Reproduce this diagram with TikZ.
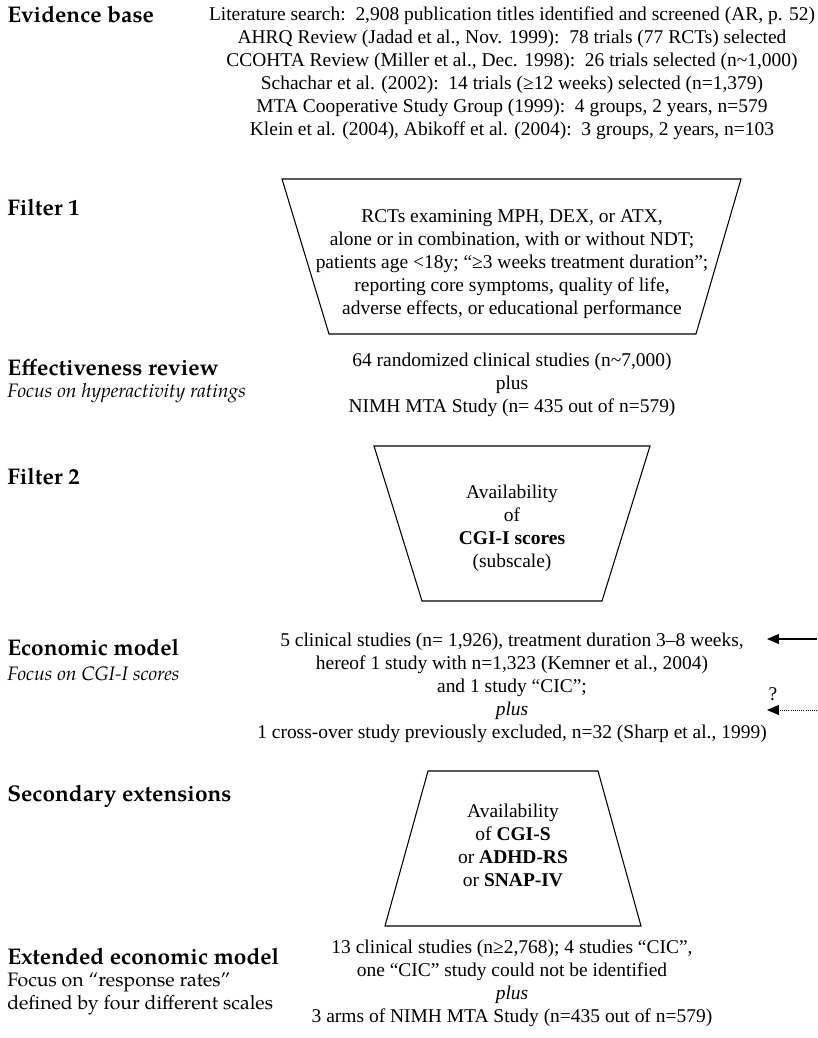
\documentclass[tikz,border=0pt]{standalone}
\usepackage{fontspec}
\setmainfont{Liberation Serif}
\newfontfamily\pagella{TeX Gyre Pagella}
\usetikzlibrary{arrows.meta}
\newcommand\qsize{\fontsize{14.6}{17.25}\selectfont}
\tikzset{
    stagelbl/.style={font=\pagella\bfseries\fontsize{17}{20}\selectfont, anchor=west, inner sep=0pt},
    stagesub/.style={font=\pagella\fontsize{14.6}{17.25}\selectfont, anchor=west, inner sep=0pt, align=left},
    qtext/.style={align=center, inner sep=0pt},
    qfilter/.style={draw=black, line width=0.8pt, line join=miter},
    qline/.style={-{Triangle[length=9pt, width=7.5pt]}, line width=0.9pt},
    qdots/.style={-{Triangle[length=9pt, width=7.5pt]}, line width=0.6pt, densely dotted}
}

\begin{document}
\begin{tikzpicture}[x=0.75pt, y=-0.75pt, every node/.style={font=\qsize}]
            \useasboundingbox (0,0) rectangle (817,1038);
            \foreach \n/\y/\t in {lEvid/15/Evidence base, lFiltA/208/Filter 1, lEff/368/Effectiveness review, lFiltB/477/Filter 2, lEcon/648/Economic model, lSec/796/Secondary extensions, lExt/957/Extended economic model}{
                \node[stagelbl] (\n) at (7,\y) {\t};
            }
            \node[stagesub, font=\pagella\itshape\fontsize{14.6}{17.25}\selectfont] (sEff) at (7,393) {Focus on hyperactivity ratings};
            \node[stagesub, font=\pagella\itshape\fontsize{14.6}{17.25}\selectfont] (sEcon) at (7,674) {Focus on CGI-I scores};
            \node[stagesub] (sExt) at (7,993.5) {Focus on “response rates”\\defined by four different scales};

            \draw[qfilter] (282,179) -- (741,179) -- (696,334) -- (329,334) -- cycle;
            \draw[qfilter] (374,446) -- (650,446) -- (602,601) -- (422,601) -- cycle;
            \draw[qfilter] (428,771) -- (598,771) -- (641,926) -- (385,926) -- cycle;

            \node[qtext] (evid) at (512,73) {Literature search:\ \ 2,908 publication titles identified and screened (AR, p. 52)\\
                AHRQ Review (Jadad et al., Nov. 1999):\ \ 78 trials (77 RCTs) selected\\
                CCOHTA Review (Miller et al., Dec. 1998):\ \ 26 trials selected (n\textasciitilde 1,000)\\
                Schachar et al. (2002):\ \ 14 trials (≥12 weeks) selected (n=1,379)\\
                MTA Cooperative Study Group (1999):\ \ 4 groups, 2 years, n=579\\
                Klein et al. (2004), Abikoff et al. (2004):\ \ 3 groups, 2 years, n=103};
            \node[qtext] (filtA) at (512,264) {RCTs examining MPH, DEX, or ATX,\\
                alone or in combination, with or without NDT;\\
                patients age <18y; “≥3 weeks treatment duration”;\\
                reporting core symptoms, quality of life,\\
                adverse effects, or educational performance};
            \node[qtext] (eff) at (512,385) {64 randomized clinical studies (n\textasciitilde 7,000)\\plus\\NIMH MTA Study (n= 435 out of n=579)};
            \node[qtext] (filtB) at (512,528) {Availability\\of\\\textbf{CGI-I scores}\\(subscale)};
            \node[qtext] (econ) at (512,687.5) {5 clinical studies (n= 1,926), treatment duration 3–8 weeks,\\
                hereof 1 study with n=1,323 (Kemner et al., 2004)\\
                and 1 study “CIC”;\\
                \textit{plus}\\
                1 cross-over study previously excluded, n=32 (Sharp et al., 1999)};
            \node[qtext] (sec) at (513,845) {Availability\\of \textbf{CGI-S}\\or \textbf{ADHD-RS}\\or \textbf{SNAP-IV}};
            \node[qtext] (ext) at (512,983) {13 clinical studies (n≥2,768); 4 studies “CIC”,\\
                one “CIC” study could not be identified\\
                \textit{plus}\\
                3 arms of NIMH MTA Study (n=435 out of n=579)};

            \coordinate (inSolid) at (817,639);
            \coordinate (inDots) at (817,710);
            \node[qtext] (qmark) at (773,694) {?};
            \draw[qline] (inSolid) -- (inSolid -| econ.east);
            \draw[qdots] (inDots) -- (inDots -| econ.east);
        \end{tikzpicture}
\end{document}
